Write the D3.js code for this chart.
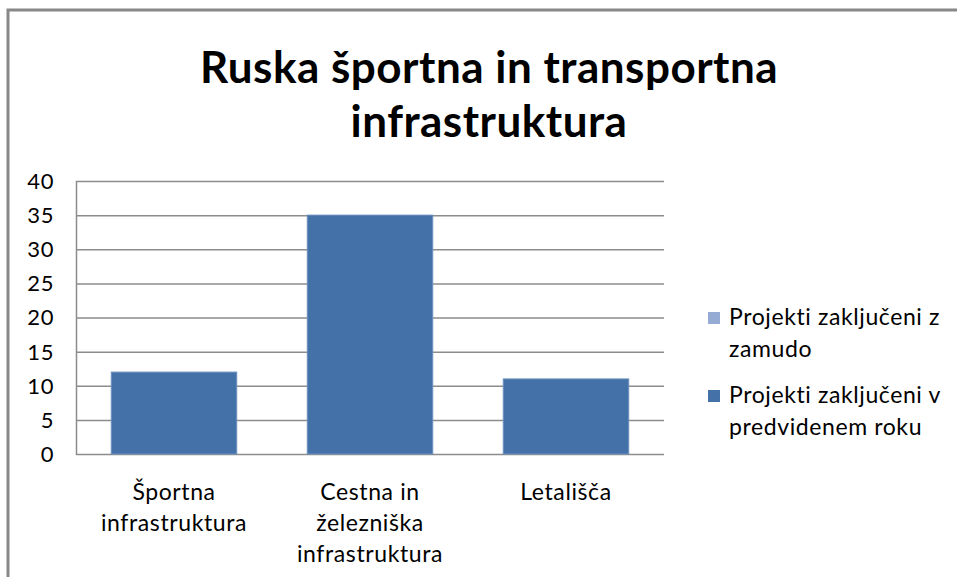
<!DOCTYPE html>
<html>
<head>
<meta charset="utf-8">
<script src="https://cdn.jsdelivr.net/npm/d3@7"></script>
<style>
  html, body { margin: 0; padding: 0; background: #fff; }
  svg { display: block; font-family: Lato, "Open Sans", sans-serif; font-variant-ligatures: none; }
</style>
</head>
<body>
<div id="chart"></div>
<script>
const categories = [["Športna", "infrastruktura"], ["Cestna in", "železniška", "infrastruktura"], ["Letališča"]];
const seriesNames = [["Projekti zaključeni z", "zamudo"], ["Projekti zaključeni v", "predvidenem roku"]];
const zamudo = [0, 0, 0];
const vRoku = [12, 35, 11];
const yTicks = [0, 5, 10, 15, 20, 25, 30, 35, 40];
const titleLines = ["Ruska športna in transportna", "infrastruktura"];

const W = 957, H = 577;
const plot = { left: 76, top: 181, right: 664, bottom: 454 };
const lightBlue = "#95abd3";
const darkBlue = "#4472a8";
const grid = "#8c8c8c";

const svg = d3.select("#chart").append("svg")
    .attr("width", W)
    .attr("height", H);

// outer chart frame (only top and left show in the crop)
svg.append("path")
    .attr("d", `M8,${H} L8,10 L${W},10`)
    .attr("fill", "none")
    .attr("stroke", "#888")
    .attr("stroke-width", 3);

// title
svg.append("text")
    .attr("x", 489)
    .attr("y", 83)
    .attr("text-anchor", "middle")
    .style("font-weight", "bold")
    .style("font-size", "44px")
    .style("letter-spacing", "0.5px")
    .selectAll("tspan")
    .data(titleLines)
    .enter()
    .append("tspan")
    .attr("x", 489)
    .attr("dy", (d, i) => i === 0 ? 0 : 54)
    .text(d => d);

const keys = ["vRoku", "zamudo"];
const rows = categories.map((c, i) => ({ cat: i, vRoku: vRoku[i], zamudo: zamudo[i] }));
const stacked = d3.stack().keys(keys)(rows);

const x = d3.scaleBand()
    .domain(d3.range(categories.length))
    .range([plot.left, plot.right])
    .paddingInner(0.36)
    .paddingOuter(0.18);

const y = d3.scaleLinear()
    .domain([0, 40])
    .range([plot.bottom, plot.top]);

// gridlines
svg.append("g")
    .selectAll("line")
    .data(yTicks)
    .enter()
    .append("line")
    .attr("x1", plot.left)
    .attr("x2", plot.right)
    .attr("y1", d => y(d) + 0.5)
    .attr("y2", d => y(d) + 0.5)
    .attr("stroke", grid)
    .attr("stroke-width", 1.5);

// left axis line
svg.append("line")
    .attr("x1", plot.left + 0.5)
    .attr("x2", plot.left + 0.5)
    .attr("y1", plot.top)
    .attr("y2", plot.bottom + 1)
    .attr("stroke", grid)
    .attr("stroke-width", 1.5);

// y tick labels
svg.append("g")
    .selectAll("text")
    .data(yTicks)
    .enter()
    .append("text")
    .attr("x", 54)
    .attr("y", d => y(d))
    .attr("dy", "0.36em")
    .attr("text-anchor", "end")
    .style("font-size", "22px")
    .style("letter-spacing", "0.6px")
    .attr("fill", "#000")
    .text(d => d);

const colors = { vRoku: darkBlue, zamudo: lightBlue };

svg.append("g")
    .selectAll("g")
    .data(stacked)
    .enter()
    .append("g")
    .attr("fill", d => colors[d.key])
    .selectAll("rect")
    .data(d => d.filter(v => v[1] - v[0] > 0))
    .enter()
    .append("rect")
    .attr("x", d => x(d.data.cat))
    .attr("y", d => y(d[1]))
    .attr("width", x.bandwidth())
    .attr("height", d => y(d[0]) - y(d[1]))
    .attr("stroke", "#6a8fc0")
    .attr("stroke-width", 1);

// x labels
const xl = svg.append("g")
    .selectAll("text")
    .data(categories)
    .enter()
    .append("text")
    .attr("x", (d, i) => x(i) + x.bandwidth() / 2)
    .attr("y", 500)
    .attr("text-anchor", "middle")
    .style("font-size", "23px")
    .style("letter-spacing", "0.6px");

xl.selectAll("tspan")
    .data((d, i) => d.map(s => ({ s, i })))
    .enter()
    .append("tspan")
    .attr("x", d => x(d.i) + x.bandwidth() / 2)
    .attr("dy", (d, j) => j === 0 ? 0 : 31)
    .text(d => d.s);

// legend
const legend = svg.append("g")
    .selectAll("g")
    .data(seriesNames)
    .enter()
    .append("g")
    .attr("transform", (d, i) => `translate(708, ${312 + i * 78})`);

legend.append("rect")
    .attr("width", 12)
    .attr("height", 12)
    .attr("fill", (d, i) => i === 0 ? lightBlue : darkBlue);

legend.append("text")
    .attr("x", 21)
    .attr("y", 13)
    .style("font-size", "23px")
    .style("letter-spacing", "0.6px")
    .selectAll("tspan")
    .data(d => d)
    .enter()
    .append("tspan")
    .attr("x", 21)
    .attr("dy", (d, j) => j === 0 ? 0 : 32)
    .text(d => d);
</script>
</body>
</html>
